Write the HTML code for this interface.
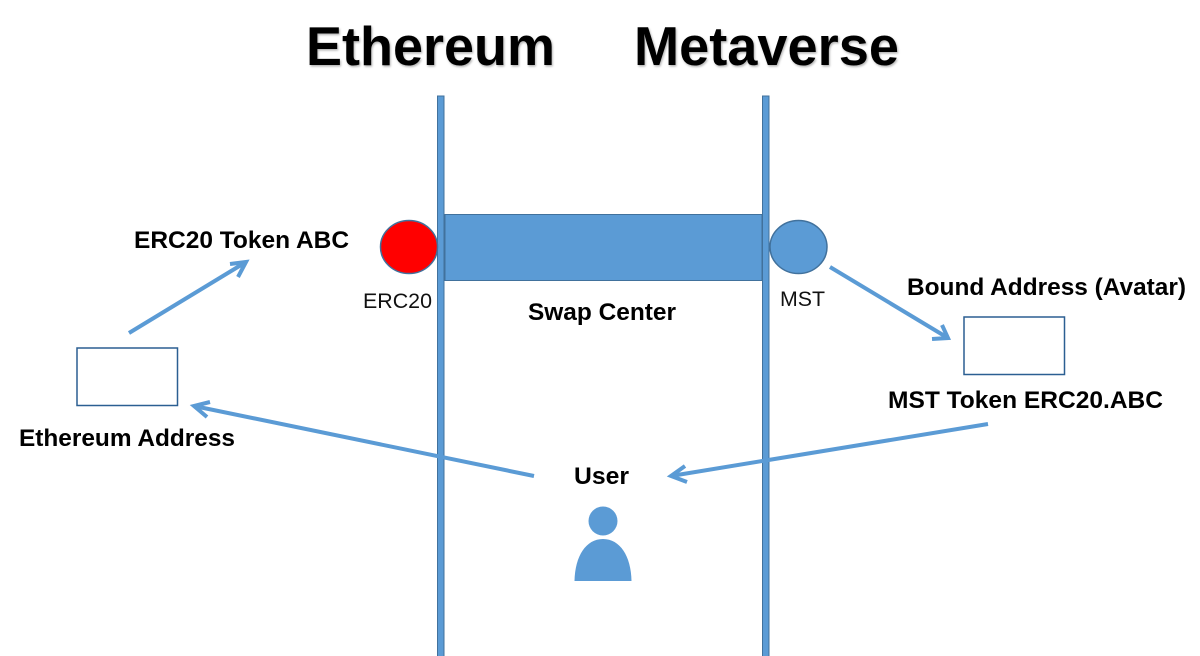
<!DOCTYPE html>
<html><head><meta charset="utf-8"><style>html,body{margin:0;padding:0;background:#fff;width:1200px;height:656px;overflow:hidden}svg{display:block}text{font-family:"Liberation Sans",sans-serif;fill:#000}.b{font-weight:bold;font-size:24px}.s{font-size:21px;fill:#111}</style></head><body>
<svg width="1200" height="656" viewBox="0 0 1200 656" xmlns="http://www.w3.org/2000/svg">
<defs><filter id="sh" x="-5%" y="-5%" width="110%" height="120%"><feDropShadow dx="1" dy="1.5" stdDeviation="1" flood-color="#000" flood-opacity=".3"/></filter></defs>
<g filter="url(#sh)" class="b"><text x="306" y="65" style="font-size:55px" textLength="249" lengthAdjust="spacingAndGlyphs">Ethereum</text>
<text x="634" y="65" style="font-size:55px" textLength="265" lengthAdjust="spacingAndGlyphs">Metaverse</text></g>
<rect x="437.5" y="96" width="6.5" height="562" fill="#5b9bd5" stroke="#41719c" stroke-width="1"/>
<rect x="762.5" y="96" width="6.5" height="562" fill="#5b9bd5" stroke="#41719c" stroke-width="1"/>
<rect x="445" y="214.500" width="317" height="66" fill="#5b9bd5" stroke="#41719c" stroke-width="1"/>
<ellipse cx="409" cy="247" rx="28.500" ry="26.500" fill="#f00" stroke="#41719c" stroke-width="1.500"/>
<ellipse cx="798.500" cy="247" rx="28.500" ry="26.500" fill="#5b9bd5" stroke="#41719c" stroke-width="1.500"/>
<rect x="77" y="348" width="100.500" height="57.500" fill="#fff" stroke="#2b5f92" stroke-width="1.500"/>
<rect x="964" y="317" width="100.500" height="57.500" fill="#fff" stroke="#2b5f92" stroke-width="1.500"/>
<g fill="none" stroke="#5b9bd5" stroke-width="4">
<path d="M129 333L246 262M230 264L246 262L238 277"/>
<path d="M830 267L948 338M932 339L948 338L942 325"/>
<path d="M534 476L194 406M210 402L194 406L207 417"/>
<path d="M988 424L671 476M685 466L671 476L687 482"/>
</g>
<circle cx="603" cy="521" r="14.500" fill="#5b9bd5"/>
<path d="M574.500 581C575 556 586 539 603 539C620 539 631 556 631.500 581Z" fill="#5b9bd5"/>
<text class="s" x="363" y="308" textLength="69" lengthAdjust="spacingAndGlyphs">ERC20</text>
<text class="s" x="780" y="306" textLength="45" lengthAdjust="spacingAndGlyphs">MST</text>
<text class="b" x="134" y="248" textLength="215" lengthAdjust="spacingAndGlyphs">ERC20 Token ABC</text>
<text class="b" x="528" y="320" textLength="148" lengthAdjust="spacingAndGlyphs">Swap Center</text>
<text class="b" x="907" y="295" textLength="279" lengthAdjust="spacingAndGlyphs">Bound Address (Avatar)</text>
<text class="b" x="888" y="408" textLength="275" lengthAdjust="spacingAndGlyphs">MST Token ERC20.ABC</text>
<text class="b" x="19" y="446" textLength="216" lengthAdjust="spacingAndGlyphs">Ethereum Address</text>
<text class="b" x="574" y="484" textLength="55" lengthAdjust="spacingAndGlyphs">User</text>
</svg></body></html>
